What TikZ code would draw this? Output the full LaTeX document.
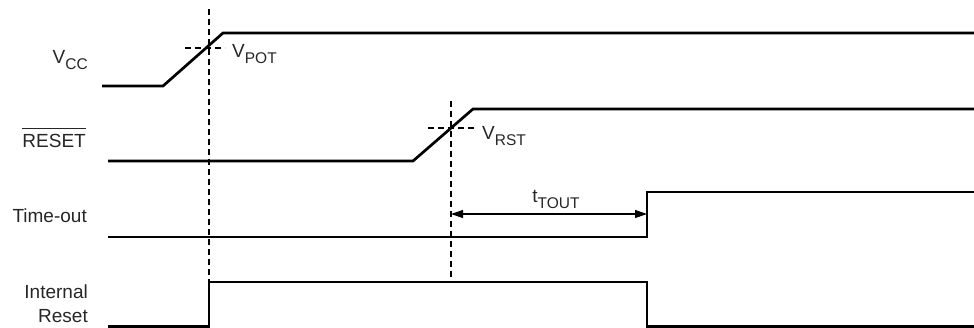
\documentclass[tikz,border=0pt]{standalone}
\usepackage{fontspec}
\setmainfont{Liberation Sans}
\usetikzlibrary{arrows.meta}
\newcommand{\sigsub}[2]{#1\raisebox{-6pt}{\fontsize{15.5}{15.5}\selectfont #2}}
\begin{document}
\begin{tikzpicture}[x=1pt,y=-1pt,
 sig/.style={line width=2.7pt, line join=miter},
 guide/.style={line width=1.3pt, dash pattern=on 6pt off 4pt},
 lab/.style={font=\fontsize{19}{24}\selectfont, inner sep=0pt, text=black!85},
 dim/.style={line width=1.1pt, {Triangle[length=12pt,width=8pt]}-{Triangle[length=12pt,width=8pt]}}]
\useasboundingbox (0,0) rectangle (974,327);
% signal labels
\node[lab, anchor=base east] (vcc) at (88,63) {\sigsub{V}{CC}};
\node[lab, anchor=base east] (reset) at (86,147) {RESET};
\draw[line width=1.2pt, black!85] ([yshift=5pt]reset.north west) -- ([yshift=5pt]reset.north east);
\node[lab, anchor=base east] (tout) at (87,222) {Time-out};
\node[lab, anchor=base east, align=right] (ireset) at (88,322) {Internal\\Reset};
% waveforms
\coordinate (v0) at (102,86); \coordinate (v1) at (163,86); \coordinate (v2) at (223,33); \coordinate (v3) at (974,33);
\draw[sig] (v0) -- (v1) -- (v2) -- (v3);
\coordinate (r0) at (108,161); \coordinate (r1) at (413,161); \coordinate (r2) at (473,109); \coordinate (r3) at (974,109);
\draw[sig] (r0) -- (r1) -- (r2) -- (r3);
\coordinate (t0) at (108,237); \coordinate (t1) at (647,237); \coordinate (t2) at (647,192); \coordinate (t3) at (974,192);
\draw[sig] (t0) -- (t1) -- (t2) -- (t3);
\coordinate (i0) at (108,326.5); \coordinate (i1) at (209,326.5); \coordinate (i2) at (209,282); \coordinate (i3) at (647,282);
\coordinate (i4) at (647,326.5); \coordinate (i5) at (974,326.5);
\draw[sig] (i0) -- (i1) -- (i2) -- (i3) -- (i4) -- (i5);
% guides
\coordinate (g1a) at (209,9); \coordinate (g1b) at (209,282);
\draw[guide] (g1a) -- (g1b);
\coordinate (h1a) at (185,48); \coordinate (h1b) at (225,48);
\draw[guide] (h1a) -- (h1b);
\coordinate (g2a) at (451,101); \coordinate (g2b) at (451,282);
\draw[guide] (g2a) -- (g2b);
\coordinate (h2a) at (428,128); \coordinate (h2b) at (475,128);
\draw[guide] (h2a) -- (h2b);
% threshold labels
\node[lab, anchor=base west] (vpot) at (232,57) {\sigsub{V}{POT}};
\node[lab, anchor=base west] (vrst) at (482,139) {\sigsub{V}{RST}};
% timeout arrow
\coordinate (a0) at (451,214); \coordinate (a1) at (647,214);
\draw[dim] (a0) -- (a1);
\node[lab, anchor=base] (ttout) at (556,202) {\sigsub{t}{TOUT}};
\end{tikzpicture}
\end{document}
